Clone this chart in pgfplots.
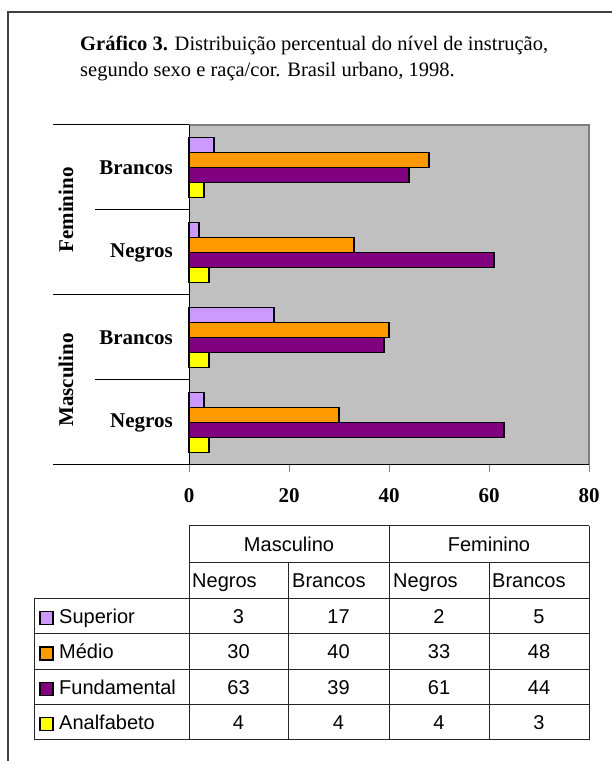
\documentclass[border=0pt]{standalone}
\usepackage{fontspec}
\setmainfont{Liberation Serif}
\newfontfamily\arialf{Liberation Sans}
\usepackage{pgfplots}
\pgfplotsset{compat=1.18}
\definecolor{cSup}{HTML}{CC99FF}
\definecolor{cMed}{HTML}{FF9900}
\definecolor{cFun}{HTML}{800080}
\definecolor{cAna}{HTML}{FFFF00}
\definecolor{bgray}{HTML}{C0C0C0}
\definecolor{gborder}{HTML}{808080}
\definecolor{frame}{HTML}{404040}
\begin{document}
\begin{tikzpicture}[x=1bp,y=1bp]
\useasboundingbox (0,0) rectangle (612,761);
% frame
\draw[line width=2bp, frame] (7.5,0) -- (7.5,749) -- (613,749);
% title
\node[anchor=base west, inner sep=0pt, font=\fontsize{20.5bp}{24bp}\selectfont] at (80,710) {\textbf{Gráfico 3.} Distribuição percentual do nível de instrução,};
\node[anchor=base west, inner sep=0pt, font=\fontsize{20.5bp}{24bp}\selectfont] at (80,684) {segundo sexo e raça/cor. Brasil urbano, 1998.};
\begin{axis}[
  at={(189bp,296bp)}, anchor=south west,
  scale only axis, width=400bp, height=340bp,
  xbar, bar width=15bp,
  xmin=0, xmax=80, ymin=-0.5, ymax=3.5,
  xtick={0,20,40,60,80},
  ytick={0,1,2,3}, yticklabels={Negros,Brancos,Negros,Brancos},
  axis background/.style={fill=bgray},
  axis line style={draw=none},
  tick align=outside, major tick length=7bp,
  xtick pos=bottom,
  xtick style={draw=gborder, line width=1bp},
  ytick style={draw=none},
  /pgf/number format/assume math mode=true,
  xticklabel style={font=\bfseries\fontsize{21bp}{21bp}\selectfont, inner sep=0pt, yshift=-16bp},
  yticklabel style={font=\bfseries\fontsize{21bp}{21bp}\selectfont, inner sep=0pt, anchor=east, xshift=-9bp},
  clip=false,
]
\addplot[fill=cSup, draw=black, line width=1.5bp, bar shift=22.5bp] coordinates {(3,0) (17,1) (2,2) (5,3)};
\addplot[fill=cMed, draw=black, line width=1.5bp, bar shift=7.5bp] coordinates {(30,0) (40,1) (33,2) (48,3)};
\addplot[fill=cFun, draw=black, line width=1.5bp, bar shift=-7.5bp] coordinates {(63,0) (39,1) (61,2) (44,3)};
\addplot[fill=cAna, draw=black, line width=1.5bp, bar shift=-22.5bp] coordinates {(4,0) (4,1) (4,2) (3,3)};
\draw[gborder, line width=2bp] (rel axis cs:0,1) -- (rel axis cs:1,1) -- (rel axis cs:1,0);
\draw[black, line width=1bp] (rel axis cs:0,1) -- (rel axis cs:0,0) -- (rel axis cs:1,0);
\end{axis}
% separators
\draw[line width=1bp] (53,636) -- (189,636);
\draw[line width=1bp] (95,551) -- (189,551);
\draw[line width=1bp] (53,466) -- (189,466);
\draw[line width=1bp] (95,381) -- (189,381);
\draw[line width=1bp] (53,296) -- (189,296);
\node[rotate=90, font=\bfseries\fontsize{21bp}{21bp}\selectfont, inner sep=0pt] at (66,551) {Feminino};
\node[rotate=90, font=\bfseries\fontsize{21bp}{21bp}\selectfont, inner sep=0pt] at (66,381) {Masculino};
% data table
\begin{scope}[line width=1bp, draw=black!85]
\draw (189,235) -- (589,235);
\draw (189,198) -- (589,198);
\foreach \yy in {162,127,91,56,21} {\draw (34,\yy) -- (589,\yy);}
\draw (34,162) -- (34,21);
\draw (189,235) -- (189,21);
\draw (288,198) -- (288,21);
\draw (389,235) -- (389,21);
\draw (489,198) -- (489,21);
\draw (589,235) -- (589,21);
\end{scope}
\begin{scope}[every node/.style={inner sep=0pt, font=\arialf\fontsize{20bp}{24bp}\selectfont}]
\node[anchor=base] at (289,209.5) {Masculino};
\node[anchor=base] at (489,209.5) {Feminino};
\node[anchor=base west] at (192,173) {Negros};
\node[anchor=base west] at (292,173) {Brancos};
\node[anchor=base west] at (393,173) {Negros};
\node[anchor=base west] at (492,173) {Brancos};
\foreach \lab/\col/\yb/\va/\vb/\vc/\vd in {Superior/cSup/137.5/3/17/2/5, Médio/cMed/102/30/40/33/48, Fundamental/cFun/66.5/63/39/61/44, Analfabeto/cAna/31.5/4/4/4/3} {
  \draw[fill=\col, draw=black, line width=1.8bp] (40,\yb-1) rectangle (53,\yb+12);
  \node[anchor=base west] at (59,\yb) {\lab};
  \node[anchor=base] at (238.5,\yb) {\va};
  \node[anchor=base] at (338.5,\yb) {\vb};
  \node[anchor=base] at (439,\yb) {\vc};
  \node[anchor=base] at (539,\yb) {\vd};
}
\end{scope}
\end{tikzpicture}
\end{document}
